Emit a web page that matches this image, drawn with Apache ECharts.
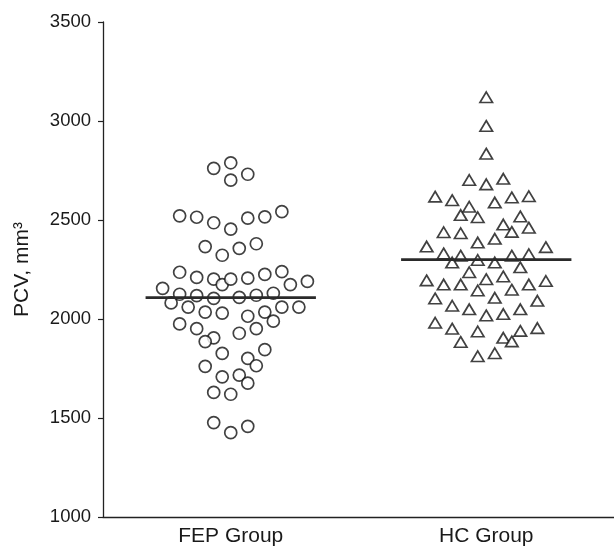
<!DOCTYPE html>
<html>
<head>
<meta charset="utf-8">
<script src="https://cdn.jsdelivr.net/npm/echarts@6/dist/echarts.min.js"></script>
<style>
  html, body { margin: 0; padding: 0; background: #fff; }
  #chart { width: 614px; height: 547px; }
</style>
</head>
<body>
<div id="chart"></div>
<script>
  // categories + tick labels
  var groups = ['FEP Group', 'HC Group']
  var yTicks = [1000, 1500, 2000, 2500, 3000, 3500]

  // FEP group: PCV values and their swarm column (offset from group centre)
  var fepValues = [2761, 2789, 2731, 2701, 2521, 2514, 2486, 2454, 2509, 2516,
    2542, 2366, 2322, 2357, 2380, 2236, 2210, 2201, 2174, 2201,
    2206, 2225, 2239, 2174, 2190, 2155, 2125, 2118, 2104, 2109,
    2120, 2130, 2081, 2060, 2035, 2030, 2014, 2035, 2060, 2060,
    1975, 1951, 1989, 1951, 1928, 1905, 1886, 1826, 1845, 1801,
    1764, 1761, 1708, 1717, 1676, 1629, 1620, 1477, 1458, 1426]
  var fepCols = [-2, 0, 2, 0, -6, -4, -2, 0, 2, 4,
    6, -3, -1, 1, 3, -6, -4, -2, -1, 0,
    2, 4, 6, 7, 9, -8, -6, -4, -2, 1,
    3, 5, -7, -5, -3, -1, 2, 4, 6, 8,
    -6, -4, 5, 3, 1, -2, -3, -1, 4, 2,
    3, -3, -1, 1, 2, -2, 0, -2, 2, 0]

  // HC group
  var hcValues = [3120, 2975, 2835, 2702, 2708, 2680, 2618, 2600, 2567, 2588,
    2614, 2620, 2525, 2514, 2518, 2477, 2438, 2433, 2440, 2461,
    2405, 2386, 2366, 2363, 2331, 2320, 2320, 2327, 2285, 2298,
    2285, 2261, 2236, 2215, 2201, 2195, 2174, 2174, 2174, 2192,
    2144, 2148, 2104, 2107, 2092, 2067, 2049, 2049, 2018, 2025,
    1981, 1951, 1937, 1940, 1954, 1905, 1884, 1887, 1812, 1827]
  var hcCols = [0, 0, 0, -2, 2, 0, -6, -4, -2, 1,
    3, 5, -3, -1, 4, 2, -5, -3, 3, 5,
    1, -1, -7, 7, -5, -3, 3, 5, -4, -1,
    1, 4, -2, 2, 0, -7, -5, -3, 5, 7,
    -1, 3, -6, 1, 6, -4, -2, 4, 0, 2,
    -6, -4, -1, 4, 6, 2, -3, 3, -1, 1]

  var means = [2108, 2300]

  var font = "'Liberation Sans', Arial, sans-serif"
  var ink = '#1a1a1a'
  var colSpan = 30 // hidden x axis units between the two group centres
  var chart = echarts.init(document.getElementById('chart'))

  function pts(vals, cols, centre) {
    var out = []
    for (var i = 0; i < vals.length; i++) out.push([centre + cols[i], vals[i]])
    return out
  }
  function meanLine(v, centre) {
    return [[centre - 10, v], [centre + 10, v]]
  }

  var option = {
    animation: false,
    backgroundColor: '#fff',
    grid: { left: 103, right: -4, top: 22, bottom: 30, containLabel: false },
    xAxis: [
      {
        type: 'category',
        data: groups,
        boundaryGap: true,
        axisLine: { onZero: false, lineStyle: { color: '#222', width: 1.3 } },
        axisTick: { alignWithLabel: true, length: 4, lineStyle: { color: '#222', width: 1.2 } },
        axisLabel: { color: ink, fontSize: 21, fontFamily: font, margin: 9 },
        splitLine: { show: false }
      },
      {
        type: 'value',
        min: -colSpan / 2,
        max: colSpan * 1.5,
        show: false
      }
    ],
    yAxis: {
      type: 'value',
      min: yTicks[0],
      max: yTicks[yTicks.length - 1],
      interval: 500,
      name: 'PCV, mm³',
      nameLocation: 'middle',
      nameGap: 70,
      nameTextStyle: { color: ink, fontSize: 21, fontFamily: font },
      axisLine: { show: true, onZero: false, lineStyle: { color: '#222', width: 1.3 } },
      axisTick: { show: true, length: 5, lineStyle: { color: '#222', width: 1.2 } },
      axisLabel: {
        color: ink, fontSize: 18.5, fontFamily: font, margin: 12,
        formatter: function (v) { return String(v) }
      },
      splitLine: { show: false }
    },
    series: [
      {
        name: groups[0],
        type: 'scatter',
        xAxisIndex: 1,
        symbol: 'circle',
        symbolSize: 12,
        itemStyle: { color: '#fff', borderColor: '#111', borderWidth: 1.7 },
        data: pts(fepValues, fepCols, 0)
      },
      {
        name: groups[1],
        type: 'scatter',
        xAxisIndex: 1,
        symbol: 'triangle',
        symbolSize: [12.5, 10.5],
        itemStyle: { color: '#fff', borderColor: '#111', borderWidth: 1.7 },
        data: pts(hcValues, hcCols, colSpan)
      },
      {
        type: 'line',
        xAxisIndex: 1,
        symbol: 'none',
        lineStyle: { color: '#2a2a2a', width: 2.8 },
        data: meanLine(means[0], 0),
        z: 3
      },
      {
        type: 'line',
        xAxisIndex: 1,
        symbol: 'none',
        lineStyle: { color: '#2a2a2a', width: 2.8 },
        data: meanLine(means[1], colSpan),
        z: 3
      }
    ]
  }
  chart.setOption(option)
</script>
</body>
</html>
